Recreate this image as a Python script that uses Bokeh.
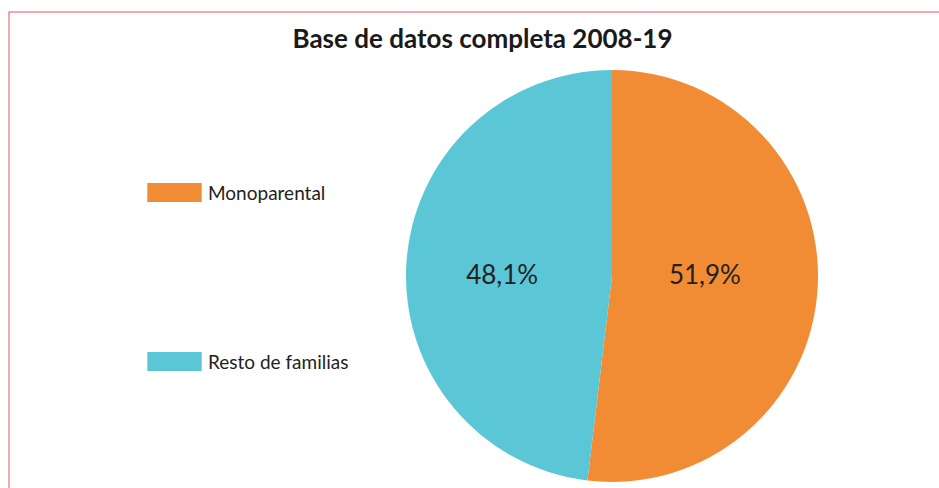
import numpy as np
from bokeh.plotting import figure
from bokeh.models import Label, Legend, LegendItem, ColumnDataSource, Span
from bokeh.core.properties import value
from bokeh.embed import file_html
from bokeh.resources import INLINE

# ---- data ----
categories = ["Monoparental", "Resto de familias"]
shares = [51.9, 48.1]
share_labels = ["51,9%", "48,1%"]
colors = ["#F28C34", "#5BC7D6"]
title_text = "Base de datos completa 2008-19"

# ---- geometry (layout) ----
frac = np.array(shares) / sum(shares)
cum = np.concatenate([[0], np.cumsum(frac)])
start = np.pi / 2 - cum[:-1] * 2 * np.pi
end = np.pi / 2 - cum[1:] * 2 * np.pi
mid = (start + end) / 2
label_r = [0.452, 0.534]
lx = [r * np.cos(m) for r, m in zip(label_r, mid)]
ly = [0.012, 0.012]

src = ColumnDataSource(dict(cat=categories, start=start, end=end, color=colors,
                            lab=share_labels, lx=lx, ly=ly))

X0, X1 = -2.9296, 1.5898
Y0, Y1 = -1.0316, 1.2840
p = figure(width=939, height=488, output_backend="svg", toolbar_location=None,
           x_range=(X0, X1), y_range=(Y0, Y1),
           min_border_left=8, min_border_right=0, min_border_top=11, min_border_bottom=0)
p.axis.visible = False
p.grid.visible = False
p.outline_line_color = None
p.background_fill_color = "white"
p.border_fill_color = "white"

p.add_layout(Span(location=Y1, dimension="width", line_color="#E8525C", line_width=2))
p.add_layout(Span(location=X0, dimension="height", line_color="#E8525C", line_width=2))

r = p.wedge(x=0, y=0, radius=1, start_angle="start", end_angle="end",
            direction="clock", fill_color="color", line_color=None, source=src)

p.text(x="lx", y="ly", text="lab", source=src, text_align="center",
       text_baseline="middle", text_font=value("Lato"), text_font_size="26px",
       text_color="#222222")

p.add_layout(Label(x=474, y=451, x_units="screen", y_units="screen", text=title_text,
                   text_align="center", text_baseline="middle", text_font="Lato",
                   text_font_style="bold", text_font_size="26px", text_color="#1a1a1a"))

legend = Legend(items=[LegendItem(label=c, renderers=[r], index=i) for i, c in enumerate(categories)],
                location=(132, 115), orientation="vertical",
                glyph_width=68, glyph_height=24, label_height=24, label_standoff=0,
                spacing=145, padding=0, margin=0, border_line_color=None,
                background_fill_alpha=0, label_text_font="Lato", label_text_font_size="19px",
                label_text_color="#222222")
p.add_layout(legend)

open("out.html", "w").write(file_html(p, INLINE))
